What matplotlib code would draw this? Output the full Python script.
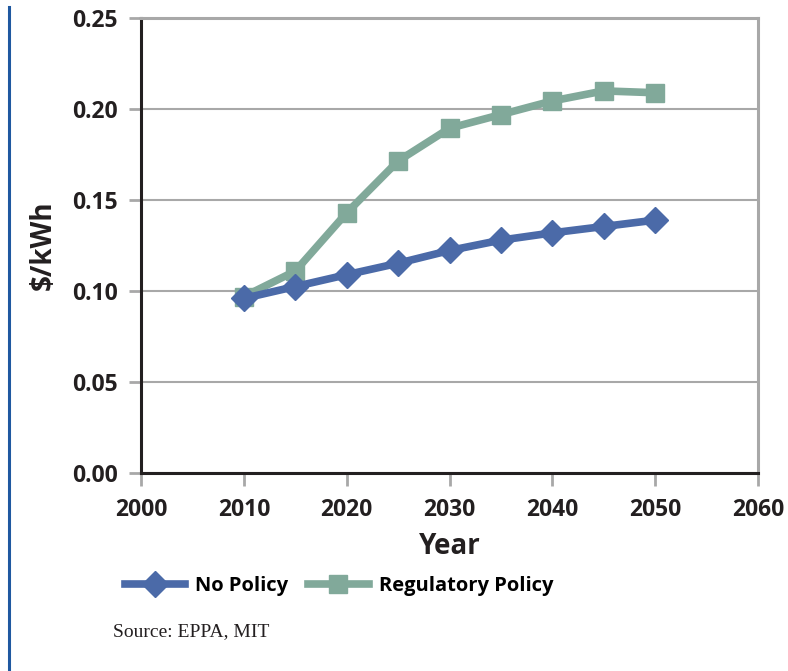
import matplotlib.pyplot as plt
from matplotlib.lines import Line2D

plt.rcParams['font.family'] = ['Open Sans', 'DejaVu Sans']

years = [2010, 2015, 2020, 2025, 2030, 2035, 2040, 2045, 2050]
no_policy = [0.096, 0.1025, 0.109, 0.1153, 0.1223, 0.128, 0.132, 0.1355, 0.139]
regulatory = [0.097, 0.111, 0.143, 0.1715, 0.1895, 0.197, 0.2045, 0.210, 0.209]

xticks = [2000, 2010, 2020, 2030, 2040, 2050, 2060]
yticks = [0.00, 0.05, 0.10, 0.15, 0.20, 0.25]

blue = '#4b6aa8'
green = '#81a99a'
grid_gray = '#a8a8a8'

fig = plt.figure(figsize=(7.88, 6.71), dpi=100)
ax = fig.add_axes([0.179, 0.295, 0.783, 0.678])

ax.plot(years, regulatory, color=green, lw=5.5, marker='s', ms=12.5,
        zorder=3, label='Regulatory Policy')
ax.plot(years, no_policy, color=blue, lw=5.5, marker='D', ms=13,
        zorder=4, label='No Policy')

ax.set_xlim(2000, 2060)
ax.set_ylim(0, 0.25)
ax.set_xticks(xticks)
ax.set_yticks(yticks)
ax.set_yticklabels(['%.2f' % v for v in yticks])
ax.yaxis.grid(True, color=grid_gray, lw=1.5)
ax.set_axisbelow(True)

for s in ['left', 'bottom']:
    ax.spines[s].set_color('#231f20')
    ax.spines[s].set_linewidth(2.2)
for s in ['top', 'right']:
    ax.spines[s].set_color(grid_gray)
    ax.spines[s].set_linewidth(2.2)

ax.tick_params(axis='both', direction='out', length=9, width=2, color=grid_gray,
               labelsize=16.5, labelcolor='#231f20')
ax.tick_params(axis='y', pad=8)
ax.tick_params(axis='x', pad=9)
for lbl in ax.get_xticklabels() + ax.get_yticklabels():
    lbl.set_fontweight('bold')

ax.set_xlabel('Year', fontsize=20, fontweight='bold', color='#231f20', labelpad=7)
ax.set_ylabel('$/kWh', fontsize=20, fontweight='bold', color='#231f20', labelpad=10)

handles = [
    Line2D([], [], color=blue, lw=5.5, marker='D', ms=13),
    Line2D([], [], color=green, lw=5.5, marker='s', ms=12.5),
]
fig.legend(handles, ['No Policy', 'Regulatory Policy'], loc='center left',
           bbox_to_anchor=(0.135, 0.127), ncol=2, frameon=False,
           handlelength=3.0, columnspacing=1.0, handletextpad=0.5,
           prop={'size': 14.5, 'weight': 'bold'})

fig.text(0.143, 0.058, 'Source: EPPA, MIT', fontsize=14, color='#231f20',
         family=['Liberation Serif', 'DejaVu Serif'], va='center')

fig.add_artist(Line2D([0.011, 0.011], [0.0, 0.99], color='#1f58a0', lw=2.2,
                      transform=fig.transFigure))

fig.savefig('out.png', dpi=100)
